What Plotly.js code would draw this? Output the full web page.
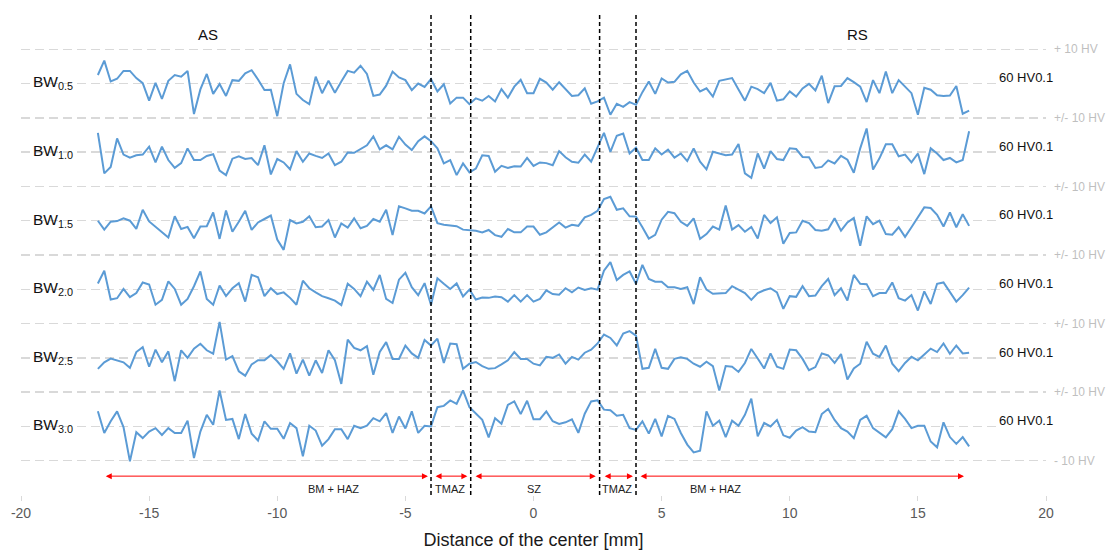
<!DOCTYPE html>
<html>
<head>
<meta charset="utf-8">
<script src="https://cdn.plot.ly/plotly-3.0.1.min.js"></script>
<style>html,body{margin:0;padding:0;background:#fff;}#chart{width:1108px;height:552px;}</style>
</head>
<body>
<div id="chart"></div>
<script>
// measurement grid: -17 mm to 17 mm, 0.25 mm step
const startMm = -17, stepMm = 0.25, nPts = 137;
const positions = Array.from({length: nPts}, (_, i) => startMm + stepMm * i);

const seriesNames = ['BW<sub>0.5</sub>','BW<sub>1.0</sub>','BW<sub>1.5</sub>','BW<sub>2.0</sub>','BW<sub>2.5</sub>','BW<sub>3.0</sub>'];
const bandCenters = [120, 100, 80, 60, 40, 20];
const baseHV = 60;

const bw05 = [62.5,66.7,60.6,61.4,63.7,63.7,61.6,60.1,55.0,60.2,55.5,60.8,62.5,62.0,63.7,51.1,58.3,62.8,57.0,59.9,56.4,61.0,60.8,63.0,63.9,61.2,58.1,58.2,50.5,60.1,65.6,57.0,55.2,54.0,62.0,57.2,60.8,57.3,60.6,63.7,63.2,65.2,62.8,56.4,56.8,59.4,
63.5,61.8,61.0,58.1,60.0,59.0,61.3,57.7,59.8,54.2,55.9,55.9,54.0,55.7,55.0,56.4,54.8,58.4,55.9,59.1,61.1,57.2,57.2,61.4,60.3,58.2,60.4,58.4,56.4,56.6,58.6,54.1,54.8,55.9,50.9,54.1,53.2,54.6,53.8,57.5,60.6,57.0,61.5,60.3,60.5,
62.7,63.7,60.3,57.7,58.6,56.2,60.8,61.2,61.6,58.3,55.0,59.1,58.4,57.2,60.2,55.0,55.4,57.7,56.2,58.6,59.9,58.0,62.3,54.3,59.2,59.3,61.6,60.4,59.1,54.6,61.0,57.2,63.5,57.2,61.0,59.1,57.2,50.9,58.8,58.2,56.6,56.4,56.5,59.3,51.2,52.1];

const bw10 = [65.6,53.8,55.7,64.0,59.3,58.4,59.1,59.3,61.6,57.0,61.6,57.7,55.4,56.8,61.1,57.7,57.7,58.9,59.4,54.6,53.3,58.1,58.8,58.0,58.3,56.2,62.0,53.5,58.0,57.0,55.0,60.3,57.2,59.6,58.9,58.3,59.6,56.2,57.2,59.9,59.8,60.9,62.0,64.6,60.8,62.0,
60.8,64.5,62.2,60.6,63.2,64.6,63.2,61.1,56.7,57.7,53.3,56.7,54.1,55.2,59.1,58.9,54.3,56.0,55.4,55.9,55.8,58.3,56.0,57.0,56.8,56.2,60.3,58.5,57.2,56.9,59.3,57.2,61.6,65.6,60.1,64.8,65.4,59.6,61.3,57.7,57.7,61.1,59.3,60.7,58.4,
59.6,57.4,61.1,57.2,55.0,60.1,59.6,59.1,59.3,62.4,53.8,52.5,59.6,55.2,60.3,58.0,57.7,61.1,60.9,58.6,58.5,55.4,55.7,57.6,56.7,58.9,57.8,54.0,61.1,66.9,54.9,58.2,62.3,62.3,58.8,59.3,57.0,59.6,53.6,61.1,59.6,57.7,58.3,57.0,57.7,66.1];

const bw15 = [60.0,57.4,59.7,59.9,60.7,60.0,57.6,63.2,59.8,58.3,56.8,55.1,61.3,57.6,58.2,54.9,58.3,58.4,62.4,54.7,63.0,56.8,59.7,62.9,57.3,59.5,60.5,61.5,54.5,51.5,60.2,59.2,59.7,61.3,58.1,58.3,60.2,55.1,59.2,58.0,60.7,57.8,58.5,60.5,59.7,63.2,
55.8,64.2,63.6,62.9,62.9,62.1,64.2,59.3,58.8,58.5,58.4,57.4,57.3,57.1,56.6,57.3,55.8,55.3,57.6,56.6,56.6,58.3,58.3,55.9,56.6,58.1,59.5,58.0,58.8,58.5,61.0,61.7,62.9,66.3,67.0,63.2,63.6,61.3,61.2,58.1,54.8,55.9,60.3,62.6,62.2,
59.7,58.5,60.7,54.7,56.1,58.3,57.4,64.4,57.4,58.7,56.8,58.2,54.8,61.7,59.3,61.0,53.3,56.4,56.6,60.0,59.3,57.3,57.1,57.5,60.7,57.1,59.5,60.8,52.7,61.3,59.0,60.0,56.1,55.9,58.1,55.3,58.1,61.2,63.9,63.7,61.7,58.3,62.4,58.1,61.9,58.5];

const bw20 = [61.7,65.4,57.0,57.4,60.1,57.7,58.9,62.0,61.4,55.5,56.9,62.3,60.1,55.5,57.2,60.9,65.2,57.2,55.5,61.1,58.0,60.3,61.8,56.4,64.2,63.5,58.0,60.3,58.6,59.1,57.5,55.5,62.5,60.3,59.1,58.0,57.4,56.7,55.4,61.6,60.1,58.0,62.2,59.8,64.2,57.2,
56.0,62.8,64.8,60.6,58.3,61.8,55.4,63.2,61.6,60.1,61.7,57.9,59.9,57.0,57.6,57.5,57.9,57.7,56.4,58.3,56.4,58.3,56.4,57.2,59.7,58.6,58.4,60.3,59.1,60.5,59.8,60.3,59.9,65.4,67.9,62.7,64.2,65.2,61.6,67.1,63.0,62.2,62.2,60.6,60.6,
60.1,60.6,55.7,63.5,59.9,58.7,58.7,58.9,60.9,59.9,58.9,56.9,58.9,59.7,60.3,59.1,54.3,58.0,57.8,60.9,58.0,58.2,60.9,63.0,58.3,60.3,56.7,64.2,61.6,61.5,58.0,58.9,58.9,62.0,57.4,56.7,58.3,53.8,59.4,55.7,61.6,62.0,59.1,56.4,58.3,60.5];

const bw25 = [56.8,58.7,59.8,59.3,58.7,57.1,61.7,63.1,57.4,62.4,58.7,61.9,53.2,62.2,60.0,62.7,64.1,62.2,61.2,70.5,59.5,60.5,56.1,54.8,58.1,59.3,59.3,60.8,59.0,56.8,61.3,55.4,59.5,54.8,59.3,55.6,62.2,59.3,52.4,65.3,62.9,62.2,63.4,55.1,61.7,64.6,
59.7,59.7,63.6,61.3,60.0,65.2,63.6,65.6,58.5,64.2,64.0,56.8,58.3,58.8,57.6,56.8,57.0,58.1,59.3,61.7,59.7,59.7,58.3,57.8,60.3,60.0,61.0,58.3,60.3,59.5,61.5,62.4,64.2,66.8,65.8,63.6,67.1,67.8,66.5,56.8,57.1,62.6,57.1,56.8,59.7,
60.2,59.7,58.3,57.4,58.9,57.6,50.5,57.6,57.4,55.9,58.5,62.6,59.8,56.9,61.3,57.4,56.8,62.4,62.2,59.7,56.4,57.3,61.3,60.7,58.5,61.1,53.7,56.9,58.3,64.7,61.2,60.3,63.6,58.3,56.1,58.5,60.3,59.3,61.0,62.7,61.7,64.2,61.2,63.6,61.3,61.5];

const bw30 = [64.4,58.1,61.5,64.4,59.8,49.8,58.3,56.6,58.5,59.5,57.5,59.5,58.1,58.1,61.7,50.8,58.5,63.4,60.5,70.5,61.9,62.2,56.3,63.6,57.9,55.9,61.5,59.3,59.3,56.4,61.0,59.5,51.3,60.2,58.8,54.4,56.3,59.2,59.2,56.3,60.2,59.5,60.2,62.4,61.5,63.9,
58.1,62.9,59.4,64.4,58.1,60.2,60.0,65.6,66.0,67.6,66.6,70.5,65.6,63.9,61.9,56.8,62.4,60.8,66.3,67.3,63.6,67.5,62.1,62.1,64.4,61.5,60.7,61.2,62.1,58.1,63.7,67.3,67.6,64.9,64.7,63.1,63.4,59.5,59.0,61.5,57.9,62.2,57.1,63.1,62.2,
58.1,54.7,52.4,52.9,64.4,60.2,61.7,56.9,61.7,60.2,63.4,68.1,57.1,61.0,60.0,61.9,57.4,56.7,58.8,59.8,58.5,58.3,63.6,65.1,61.9,59.5,58.5,56.6,61.9,63.1,59.5,58.1,56.8,59.2,64.4,62.2,59.5,60.2,60.2,55.6,53.9,61.2,56.9,54.9,56.9,54.2];

const allSeries = [bw05, bw10, bw15, bw20, bw25, bw30];

// zone boundaries and zones
const boundaries = [-4.0, -2.45, 2.58, 4.0];
const zoneSegments = [[-16.75,-4.12],[-3.88,-2.58],[-2.32,2.43],[2.72,3.88],[4.12,16.8]];
const zoneLabels = ['BM + HAZ','TMAZ','SZ','TMAZ','BM + HAZ'];
const zoneLabelX = [-7.8,-3.25,0.0,3.27,7.1];

const sideLabels = ['AS','RS'];
const sideLabelX = [-12.7, 12.66];

const xTicks = [-20,-15,-10,-5,0,5,10,15,20];
const xTickText = ['-20','-15','-10','-5','0','5','10','15','20'];
const yTicks = [0,10,20,30,40,50,60,70,80,90,100,110,120,130,140];
const yTickText = [' ','- 10 HV',' ','+/- 10 HV',' ','+/- 10 HV',' ','+/- 10 HV',' ','+/- 10 HV',' ','+/- 10 HV',' ','+ 10 HV',' '];
const refLabel = '60 HV0.1';

const traces = allSeries.map((vals, k) => ({
  x: positions,
  y: vals.map(v => v - baseHV + bandCenters[k]),
  type: 'scatter', mode: 'lines',
  line: {color: '#5b9bd5', width: 2},
  hoverinfo: 'skip'
}));

const shapes = boundaries.map(b => ({
  type: 'line', xref: 'x', yref: 'y', x0: b, x1: b, y0: 0, y1: 140,
  line: {color: '#000', width: 1.5, dash: '4px,3px'}
}));

const annotations = [];
sideLabels.forEach((t, i) => annotations.push({
  text: t, x: sideLabelX[i], y: 134.4, xref: 'x', yref: 'y', showarrow: false,
  font: {size: 15, color: '#111'}
}));
seriesNames.forEach((t, i) => annotations.push({
  text: t, x: -19.6, y: bandCenters[i] + 0.2, xref: 'x', yref: 'y', xanchor: 'left', showarrow: false,
  font: {size: 15.5, color: '#111'}
}));
bandCenters.forEach(c => annotations.push({
  text: refLabel, x: 18.1, y: c + 1.7, xref: 'x', yref: 'y', xanchor: 'left', showarrow: false,
  bgcolor: '#ffffff', borderpad: 1, font: {size: 13, color: '#111'}
}));
zoneSegments.forEach(s => annotations.push({
  text: '', x: s[1], y: 5.5, ax: s[0], ay: 5.5, xref: 'x', yref: 'y', axref: 'x', ayref: 'y',
  showarrow: true, arrowside: 'end+start', arrowhead: 2, arrowsize: 1.2, arrowwidth: 1, arrowcolor: '#ff0000',
  standoff: 0, startstandoff: 0
}));
zoneLabels.forEach((t, i) => annotations.push({
  text: t, x: zoneLabelX[i], y: 1.75, xref: 'x', yref: 'y', showarrow: false,
  font: {size: 11, color: '#222'}
}));

const layout = {
  width: 1108, height: 552,
  margin: {l: 21, r: 62, t: 15, b: 57, pad: 0},
  paper_bgcolor: '#fff', plot_bgcolor: '#fff',
  showlegend: false,
  font: {family: '"Liberation Sans", Arial, sans-serif'},
  xaxis: {
    range: [-20, 20], tickmode: 'array', tickvals: xTicks, ticktext: xTickText,
    showgrid: false, zeroline: false, showline: false,
    ticks: 'outside', ticklen: 5, tickcolor: '#d9d9d9', tickwidth: 1,
    tickfont: {size: 14, color: '#595959'},
    title: {text: 'Distance of the center [mm]', font: {size: 18, color: '#1a1a1a'}, standoff: 13},
    automargin: false, fixedrange: true
  },
  yaxis: {
    range: [0, 140], side: 'right', tickmode: 'array', tickvals: yTicks, ticktext: yTickText,
    showgrid: true, gridcolor: '#d9d9d9', gridwidth: 1.5, griddash: '9px,5px',
    zeroline: false, showline: false, ticks: '',
    tickfont: {size: 12, color: '#bfbfbf'}, ticklabelstandoff: 7,
    automargin: false, fixedrange: true
  },
  shapes: shapes,
  annotations: annotations
};

Plotly.newPlot('chart', traces, layout, {displayModeBar: false, staticPlot: true});
</script>
</body>
</html>
